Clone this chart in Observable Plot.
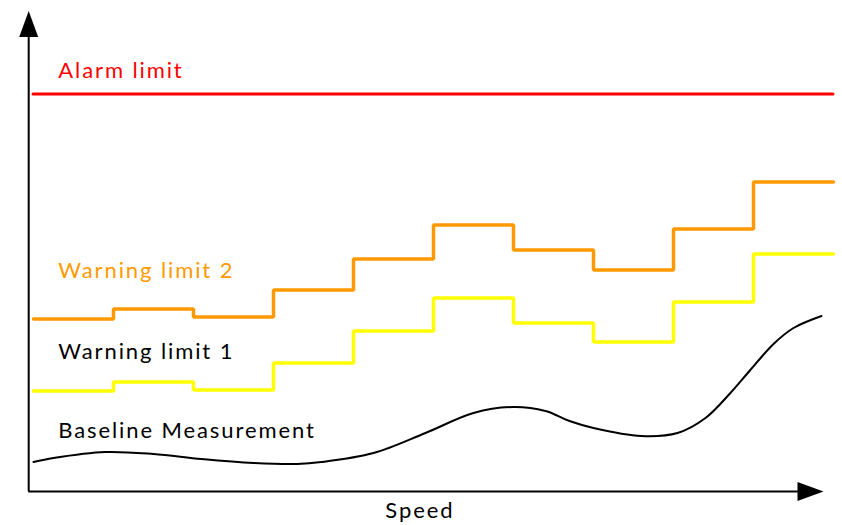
<!DOCTYPE html>
<html>
<head>
<meta charset="utf-8">
<script src="https://cdn.jsdelivr.net/npm/d3@7"></script>
<script src="https://cdn.jsdelivr.net/npm/@observablehq/plot@0.6"></script>
<style>
  html, body { margin: 0; padding: 0; background: #fff; }
  #chart svg { display: block; }
</style>
</head>
<body>
<div id="chart"></div>
<script>
// ---- data ----
// speed steps (each step spans one unit of speed)
const stepEdges = [0, 1, 2, 3, 4, 5, 6, 7, 8, 9, 10];
const alarmLimit = 79.4;
const warning2 = [34.4, 36.4, 34.8, 40.2, 46.4, 53.2, 48.2, 44.2, 52.4, 61.8];
const warning1 = [20.0, 21.8, 20.2, 25.6, 32.0, 38.6, 33.6, 29.8, 37.8, 47.4];
const baselineSpeed = [0, 0.25, 0.9, 1.5, 2.1, 2.75, 3.3, 3.6, 4.25, 4.9, 5.5, 6.0, 6.4, 6.7, 7.0, 7.6, 8.05, 8.4, 8.7, 8.95, 9.25, 9.5, 9.85];
const baselineValue = [5.8, 6.6, 7.8, 7.4, 6.4, 5.6, 5.4, 5.8, 7.6, 11.6, 15.6, 16.8, 16.0, 14.0, 12.6, 11.0, 11.6, 14.6, 19.4, 24.0, 29.4, 32.6, 35.0];
const labelTexts = ["Alarm limit", "Warning limit 2", "Warning limit 1", "Baseline Measurement"];
const labelValues = [84.1, 44.0, 27.8, 12.0];
const labelColors = ["#ff0000", "#ff9900", "#000000", "#000000"];
const axisTitle = "Speed";
// axis extents (data units)
const axisOrigin = {speed: -0.06, value: -0.1};
const axisEnd = {speed: 9.875, value: 96};

// ---- tables ----
const stepTable = (vals) => stepEdges.map((s, i) => ({speed: s, value: vals[Math.min(i, vals.length - 1)]}));
const w2 = stepTable(warning2);
const w1 = stepTable(warning1);
const baseline = baselineSpeed.map((s, i) => ({speed: s, value: baselineValue[i]}));
const labels = labelTexts.map((t, i) => ({text: t, speed: 0.31, value: labelValues[i], color: labelColors[i]}));

// filled arrow head (tip at origin, pointing up)
const arrowHead = {
  draw(context) {
    context.moveTo(0, 0);
    context.lineTo(9.5, 26);
    context.lineTo(-9.5, 26);
    context.closePath();
  }
};

const chart = Plot.plot({
  width: 842,
  height: 525,
  margin: 0,
  x: {domain: [0, 10], range: [33, 833], axis: null},
  y: {domain: [0, 96], range: [490.5, 10.5], axis: null},
  style: {background: "#fff", fontFamily: "Lato, 'Open Sans', sans-serif", letterSpacing: "1.9px"},
  marks: [
    // axes
    Plot.ruleX([axisOrigin.speed], {y1: axisOrigin.value, y2: axisEnd.value - 3, stroke: "#000", strokeWidth: 2}),
    Plot.ruleY([axisOrigin.value], {x1: axisOrigin.speed, x2: axisEnd.speed - 0.2, stroke: "#000", strokeWidth: 2.2}),
    Plot.dot([{speed: axisOrigin.speed, value: axisEnd.value}], {x: "speed", y: "value", symbol: arrowHead, fill: "#000", stroke: "none", r: 5}),
    Plot.dot([{speed: axisEnd.speed, value: axisOrigin.value}], {x: "speed", y: "value", symbol: arrowHead, fill: "#000", stroke: "none", r: 5, rotate: 90}),
    // alarm limit
    Plot.ruleY([alarmLimit], {x1: 0, x2: 10, stroke: "#ff0000", strokeWidth: 3, strokeLinecap: "round"}),
    // warning limits
    Plot.line(w2, {x: "speed", y: "value", curve: "step-after", stroke: "#ff9900", strokeWidth: 3.5, strokeLinejoin: "miter", strokeLinecap: "round"}),
    Plot.line(w1, {x: "speed", y: "value", curve: "step-after", stroke: "#ffff00", strokeWidth: 3.5, strokeLinejoin: "miter", strokeLinecap: "round"}),
    // baseline measurement
    Plot.line(baseline, {x: "speed", y: "value", curve: "catmull-rom", stroke: "#000", strokeWidth: 2}),
    // labels
    Plot.text(labels, {x: "speed", y: "value", text: "text", fill: "color", textAnchor: "start", fontSize: 22}),
    Plot.text([axisTitle], {x: 4.83, y: -3.9, text: d => d, fill: "#000", fontSize: 22})
  ]
});
document.getElementById("chart").append(chart);
</script>
</body>
</html>
